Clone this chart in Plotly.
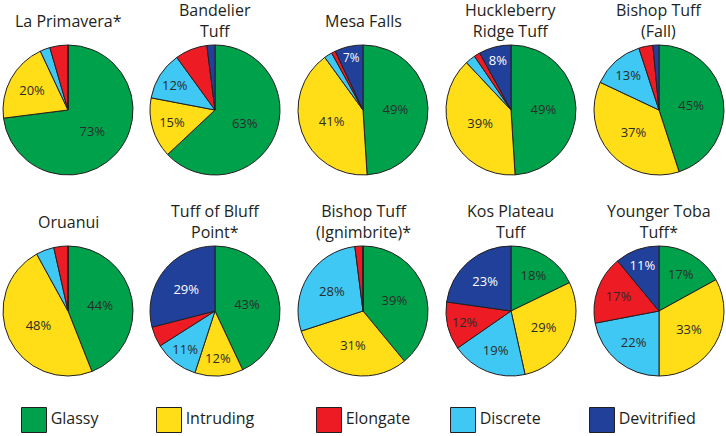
import plotly.graph_objects as go

# ---- data ----
categories = ["Glassy", "Intruding", "Discrete", "Elongate", "Devitrified"]
legend_order = ["Glassy", "Intruding", "Elongate", "Discrete", "Devitrified"]

titles = [
    "La Primavera*", "Bandelier<br>Tuff", "Mesa Falls", "Huckleberry<br>Ridge Tuff", "Bishop Tuff<br>(Fall)",
    "Oruanui", "Tuff of Bluff<br>Point*", "Bishop Tuff<br>(Ignimbrite)*", "Kos Plateau<br>Tuff", "Younger Toba<br>Tuff*",
]

glassy      = [73, 63, 49, 49, 45, 44, 43, 39, 18, 17]
intruding   = [20, 15, 41, 39, 37, 48, 12, 31, 29, 33]
discrete    = [2.5, 12, 2, 2.5, 13, 4.5, 11, 28, 19, 22]
elongate    = [4.5, 8, 1, 1.5, 3.5, 3.5, 5, 2, 12, 17]
devitrified = [0, 2, 7, 8, 1.5, 0, 29, 0, 23, 11]

# ---- style ----
colors = {
    "Glassy": "#00A14B",
    "Intruding": "#FFDE17",
    "Elongate": "#ED1C24",
    "Discrete": "#3FC8F4",
    "Devitrified": "#21409A",
}
text_colors = {"Glassy": "#2b2b2b", "Intruding": "#2b2b2b", "Elongate": "#2b2b2b",
               "Discrete": "#2b2b2b", "Devitrified": "#ffffff"}
FONT = "Open Sans"
W, H = 726, 436
col_cx = [68, 215, 363, 511, 659]
row_cy = [110, 311]
R = 65
title_y = [21, 222]
LABEL_MIN = 10
LABEL_MIN_DEVIT = 7

fig = go.Figure()
annotations = []
series = [glassy, intruding, discrete, elongate, devitrified]

for i, title in enumerate(titles):
    r, c = divmod(i, 5)
    cx, cy = col_cx[c], row_cy[r]
    vals = [s[i] for s in series]
    texts = [f"{v:g}%" if (v >= LABEL_MIN or (k == "Devitrified" and v >= LABEL_MIN_DEVIT)) else ""
             for k, v in zip(categories, vals)]
    fig.add_trace(go.Pie(
        values=vals,
        labels=categories,
        text=texts,
        textinfo="text",
        textposition="inside",
        insidetextorientation="horizontal",
        textfont=dict(family=FONT, size=13, color=[text_colors[k] for k in categories]),
        marker=dict(colors=[colors[k] for k in categories], line=dict(color="#231F20", width=1)),
        sort=False,
        direction="clockwise",
        rotation=0,
        showlegend=False,
        hoverinfo="label+percent",
        domain=dict(x=[(cx - R) / W, (cx + R) / W], y=[1 - (cy + R) / H, 1 - (cy - R) / H]),
    ))
    annotations.append(dict(
        x=cx / W, y=1 - title_y[r] / H, xref="paper", yref="paper",
        text=title, showarrow=False, xanchor="center", yanchor="middle",
        font=dict(family=FONT, size=16, color="#231F20"),
    ))

# legend as a marker row
legend_x = [34, 169, 329, 463, 602]
fig.add_trace(go.Scatter(
    x=legend_x, y=[420] * 5,
    mode="markers+text",
    marker=dict(symbol="square", size=25, color=[colors[k] for k in legend_order],
                line=dict(color="#231F20", width=1)),
    text=legend_order,
    textposition="middle right",
    textfont=dict(family=FONT, size=16, color="#231F20"),
    showlegend=False, hoverinfo="skip",
    cliponaxis=False,
))

fig.update_layout(
    width=W, height=H,
    margin=dict(l=0, r=0, t=0, b=0),
    paper_bgcolor="white", plot_bgcolor="rgba(0,0,0,0)",
    xaxis=dict(range=[0, W], visible=False, fixedrange=True),
    yaxis=dict(range=[H, 0], visible=False, fixedrange=True),
    annotations=annotations,
)

fig.write_html("out.html", config={"displayModeBar": False},
               post_script="document.body.style.margin='0';document.body.style.overflow='hidden';")
